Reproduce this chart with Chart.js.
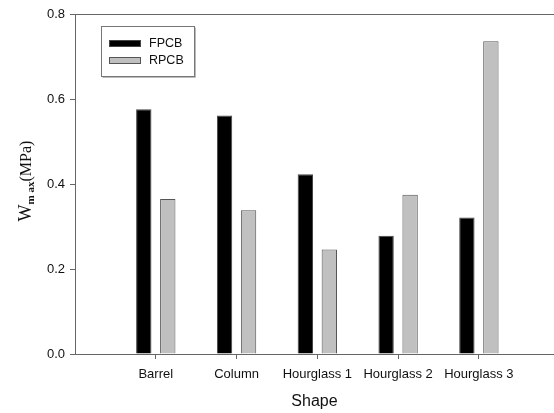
<!DOCTYPE html>
<html>
<head>
<meta charset="utf-8">
<script src="https://cdn.jsdelivr.net/npm/chart.js@4.4.1/dist/chart.umd.min.js"></script>
<style>
  html, body { margin: 0; padding: 0; background: #fff; overflow: hidden; }
  #wrap { width: 554px; height: 413px; }
</style>
</head>
<body>
<div id="wrap"><canvas id="chart" width="554" height="413"></canvas></div>
<script>
// Shapes along the x axis
const categories = ['Barrel', 'Column', 'Hourglass 1', 'Hourglass 2', 'Hourglass 3'];
// Maximum W (MPa) for each shape
const fpcb = [0.576, 0.561, 0.423, 0.278, 0.321];
const rpcb = [0.365, 0.338, 0.246, 0.375, 0.736];
// Value axis ticks
const yTicks = [0.0, 0.2, 0.4, 0.6, 0.8];

const AXIS = '#666';
const TEXT = '#111';
const SANS = "'Liberation Sans', Arial, sans-serif";
const SERIF = "'Liberation Serif', 'Times New Roman', serif";

// Bars sit at x = 1..5 on a numeric axis so the frame can run past the right edge
const toPoints = arr => arr.map((v, i) => ({ x: i + 1, y: v }));

// Boxed legend in the upper-left corner of the plot
const boxLegend = {
  id: 'boxLegend',
  afterDraw(chart) {
    const { ctx, chartArea } = chart;
    const x0 = chartArea.left + 26, y0 = chartArea.top + 12;
    ctx.save();
    ctx.strokeStyle = '#777';
    ctx.lineWidth = 1;
    ctx.strokeRect(x0 + 0.5, y0 + 0.5, 93, 50);
    ctx.strokeStyle = '#bbb';
    ctx.beginPath();
    ctx.moveTo(x0 + 1.5, y0 + 51.5); ctx.lineTo(x0 + 94.5, y0 + 51.5); ctx.lineTo(x0 + 94.5, y0 + 1.5);
    ctx.stroke();
    chart.data.datasets.forEach((ds, i) => {
      const sy = y0 + 14 + i * 17;
      ctx.fillStyle = ds.backgroundColor;
      ctx.fillRect(x0 + 8, sy, 32, 7);
      ctx.strokeStyle = ds.borderColor;
      ctx.strokeRect(x0 + 8.5, sy + 0.5, 31, 6);
      ctx.fillStyle = TEXT;
      ctx.font = '12.5px ' + SANS;
      ctx.textBaseline = 'middle';
      ctx.textAlign = 'left';
      ctx.fillText(ds.label, x0 + 48, sy + 4);
    });
    ctx.restore();
  }
};

// Rotated y-axis title with a subscript
const yTitle = {
  id: 'yTitle',
  afterDraw(chart) {
    const { ctx } = chart;
    const parts = [
      { t: 'W', font: '18px ' + SERIF, dy: 0 },
      { t: 'm ax', font: 'bold 11px ' + SERIF, dy: 3 },
      { t: '(MPa)', font: '16px ' + SERIF, dy: 0 }
    ];
    ctx.save();
    let total = 0;
    parts.forEach(p => { ctx.font = p.font; p.w = ctx.measureText(p.t).width; total += p.w; });
    ctx.translate(31, 181);
    ctx.rotate(-Math.PI / 2);
    ctx.fillStyle = TEXT;
    ctx.textBaseline = 'alphabetic';
    ctx.textAlign = 'left';
    let x = -total / 2;
    parts.forEach(p => { ctx.font = p.font; ctx.fillText(p.t, x, p.dy); x += p.w; });
    ctx.restore();
  }
};

new Chart(document.getElementById('chart'), {
  type: 'bar',
  data: {
    datasets: [
      { label: 'FPCB', data: toPoints(fpcb), backgroundColor: '#000000', borderColor: '#444', borderWidth: 1 },
      { label: 'RPCB', data: toPoints(rpcb), backgroundColor: '#c0c0c0', borderColor: '#555', borderWidth: 1 }
    ]
  },
  options: {
    responsive: false,
    devicePixelRatio: 1,
    animation: false,
    layout: { padding: { top: 14, left: 0, right: 0, bottom: 0 } },
    datasets: { bar: { categoryPercentage: 0.594, barPercentage: 0.64 } },
    plugins: { legend: { display: false }, tooltip: { enabled: false } },
    scales: {
      x: {
        type: 'linear',
        min: 0,
        max: 5.93,
        offset: false,
        afterBuildTicks: s => { s.ticks = categories.map((c, i) => ({ value: i + 1 })); },
        afterFit: s => { s.height = 59; },
        ticks: {
          autoSkip: false, maxRotation: 0, padding: 8,
          color: TEXT, font: { family: SANS, size: 13 },
          callback: v => categories[v - 1]
        },
        grid: { offset: false, drawOnChartArea: false, tickLength: 5, tickColor: AXIS },
        border: { color: AXIS, width: 1 },
        title: { display: true, text: 'Shape', color: TEXT, font: { family: SANS, size: 16 }, padding: { top: 0, bottom: 2 } }
      },
      y: {
        min: 0,
        max: 0.8,
        afterBuildTicks: s => { s.ticks = yTicks.map(v => ({ value: v })); },
        afterFit: s => { s.width = 75; },
        ticks: {
          padding: 5, color: TEXT, font: { family: SANS, size: 13 },
          callback: v => Number(v).toFixed(1)
        },
        grid: {
          drawOnChartArea: true, tickLength: 5, tickColor: AXIS,
          color: c => (c.tick && Math.abs(c.tick.value - 0.8) < 1e-9) ? AXIS : 'rgba(0,0,0,0)'
        },
        border: { color: AXIS, width: 1 }
      }
    }
  },
  plugins: [boxLegend, yTitle]
});
</script>
</body>
</html>
